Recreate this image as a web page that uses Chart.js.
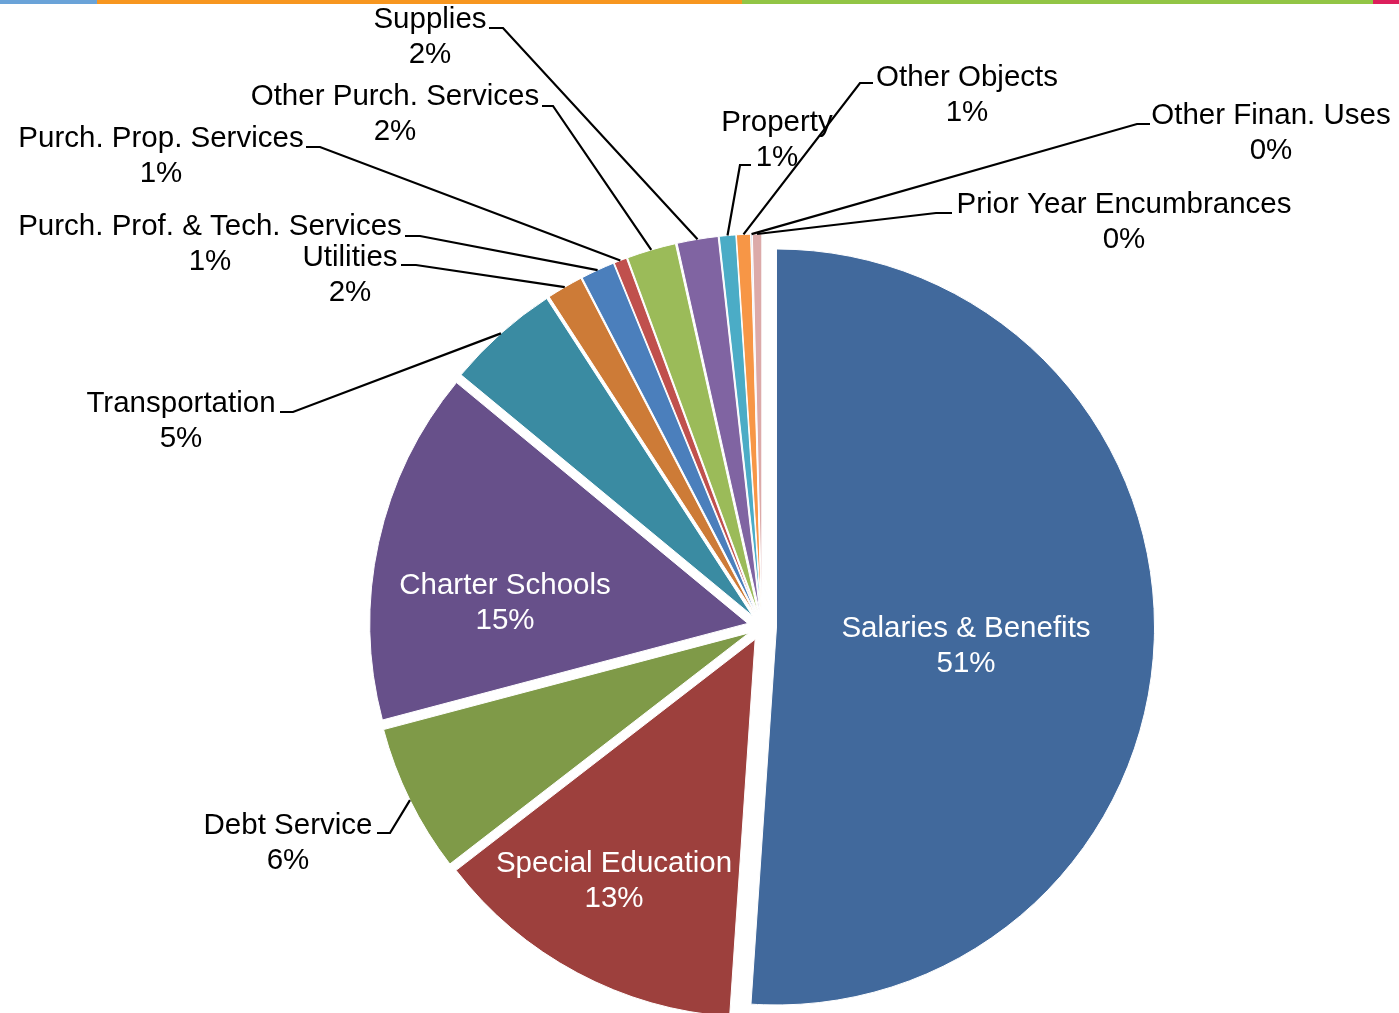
<!DOCTYPE html>
<html>
<head>
<meta charset="utf-8">
<title>Expenditures by Object</title>
<script src="https://cdn.jsdelivr.net/npm/chart.js@4.4.1/dist/chart.umd.min.js"></script>
<style>
  html, body { margin: 0; padding: 0; background: #ffffff; }
  #wrap { position: relative; width: 1399px; height: 1013px; overflow: hidden; background: #ffffff; }
  #pie { position: absolute; left: 0; top: 0; }
  .band { position: absolute; top: 0; height: 4px; }
</style>
</head>
<body>
<div id="wrap">
  <canvas id="pie" width="1399" height="1013"></canvas>
  <div class="band" style="left:0;width:97px;background:#6aa3d8"></div>
  <div class="band" style="left:97px;width:645px;background:#f7961f"></div>
  <div class="band" style="left:742px;width:631px;background:#92c545"></div>
  <div class="band" style="left:1373px;width:26px;background:#dc1f5c"></div>
</div>
<script>
// Spending categories, clockwise from 12 o'clock
const categories = [
  'Salaries & Benefits', 'Special Education', 'Debt Service', 'Charter Schools',
  'Transportation', 'Utilities', 'Purch. Prof. & Tech. Services', 'Purch. Prop. Services',
  'Other Purch. Services', 'Supplies', 'Property', 'Other Objects',
  'Other Finan. Uses', 'Prior Year Encumbrances'
];

// Share of total expenditures (percent)
const shares = [51.05, 13.45, 6.35, 15.1, 4.85, 1.55, 1.45, 0.55, 2.1, 1.75, 0.7, 0.6, 0.05, 0.4];

const sliceColors = [
  '#41699c', '#9d403d', '#7f9a48', '#67508a', '#3a8ba2', '#cd7b37', '#4b7fbc',
  '#c0504d', '#9bbb59', '#8064a2', '#4bacc6', '#f79646', '#aab8d8', '#dcaaa9'
];

// Label placement: text centre (tx, ty of first line); leader: attach (ax, ay) -> elbow x (ex) -> slice edge
const calloutLayout = {
  2:  { tx: 288,  ty: 824, ax: 377,  ay: 833, ex: 390 },
  4:  { tx: 181,  ty: 402, ax: 280,  ay: 412, ex: 293 },
  5:  { tx: 350,  ty: 256, ax: 401,  ay: 265, ex: 416 },
  6:  { tx: 210,  ty: 225, ax: 405,  ay: 236, ex: 420 },
  7:  { tx: 161,  ty: 137, ax: 306,  ay: 147, ex: 320 },
  8:  { tx: 395,  ty: 95,  ax: 542,  ay: 106, ex: 553 },
  9:  { tx: 430,  ty: 18,  ax: 489,  ay: 28,  ex: 503 },
  10: { tx: 777,  ty: 121, ax: 751,  ay: 165, ex: 740 },
  11: { tx: 967,  ty: 76,  ax: 873,  ay: 83,  ex: 860 },
  12: { tx: 1271, ty: 114, ax: 1150, ay: 124, ex: 1137 },
  13: { tx: 1124, ty: 203, ax: 952,  ay: 213, ex: 936 }
};
// Labels drawn inside their slice
const insideLayout = {
  0: { tx: 966, ty: 627 },
  1: { tx: 614, ty: 862 },
  3: { tx: 505, ty: 584 }
};

const total = shares.reduce((a, b) => a + b, 0);
const RADIUS = 378;
const EXPLODE = 14.5;      // every slice is pulled out from the centre by this much
const LINE_GAP = 35;
const TEXT_DY = 2;
const FONT = '29.5px "Liberation Sans", Arial, Helvetica, sans-serif';

// Pull each slice outward along its own bisector
const explode = {
  id: 'explode',
  beforeDatasetsDraw(chart) {
    const a = chart.chartArea;
    const cx = (a.left + a.right) / 2;
    const cy = (a.top + a.bottom) / 2;
    chart.getDatasetMeta(0).data.forEach(arc => {
      const mid = (arc.startAngle + arc.endAngle) / 2;
      arc.x = cx + Math.cos(mid) * EXPLODE;
      arc.y = cy + Math.sin(mid) * EXPLODE;
    });
  }
};

const callouts = {
  id: 'callouts',
  afterDatasetsDraw(chart) {
    const meta = chart.getDatasetMeta(0);
    const g = chart.ctx;
    g.save();
    g.font = FONT;
    g.textAlign = 'center';
    g.textBaseline = 'middle';
    meta.data.forEach((arc, i) => {
      const p = arc.getProps(['x', 'y', 'startAngle', 'endAngle', 'outerRadius'], true);
      const mid = (p.startAngle + p.endAngle) / 2;
      const edgeX = p.x + Math.cos(mid) * p.outerRadius;
      const edgeY = p.y + Math.sin(mid) * p.outerRadius;
      const pct = Math.round(shares[i] / total * 100) + '%';

      const inside = insideLayout[i];
      if (inside) {
        g.fillStyle = '#ffffff';
        g.fillText(categories[i], inside.tx, inside.ty + TEXT_DY);
        g.fillText(pct, inside.tx, inside.ty + TEXT_DY + LINE_GAP);
        return;
      }
      const lay = calloutLayout[i];
      if (!lay) return;
      g.strokeStyle = '#000000';
      g.lineWidth = 2.2;
      g.lineJoin = 'miter';
      g.beginPath();
      g.moveTo(lay.ax, lay.ay);
      g.lineTo(lay.ex, lay.ay);
      g.lineTo(edgeX, edgeY);
      g.stroke();
      g.fillStyle = '#000000';
      g.fillText(categories[i], lay.tx, lay.ty + TEXT_DY);
      g.fillText(pct, lay.tx, lay.ty + TEXT_DY + LINE_GAP);
    });
    g.restore();
  }
};

new Chart(document.getElementById('pie'), {
  type: 'pie',
  data: {
    labels: categories,
    datasets: [{
      data: shares,
      backgroundColor: sliceColors,
      borderColor: '#ffffff',
      borderWidth: 1,
      offset: 0,
      hoverOffset: 0,
      clip: false
    }]
  },
  options: {
    responsive: false,
    animation: false,
    radius: RADIUS,
    layout: { padding: { left: 125, right: 0, top: 240, bottom: 0 } },
    events: [],
    plugins: {
      legend: { display: false },
      tooltip: { enabled: false }
    }
  },
  plugins: [explode, callouts]
});
</script>
</body>
</html>
